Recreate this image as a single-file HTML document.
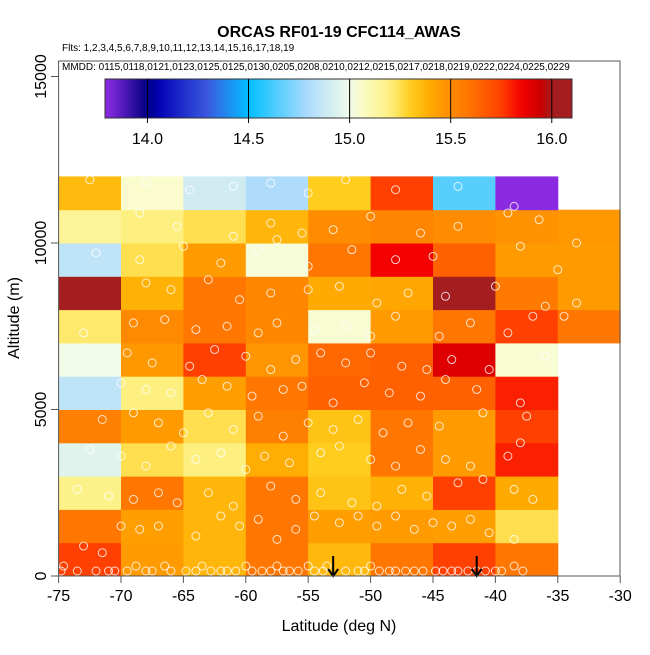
<!DOCTYPE html>
<html><head><meta charset="utf-8"><style>
html,body{margin:0;padding:0;background:#fff;}
svg text{font-family:"Liberation Sans",sans-serif;}
</style></head><body>
<svg id="chart" width="650" height="650" viewBox="0 0 650 650" xmlns="http://www.w3.org/2000/svg">
<defs><linearGradient id="cbg" x1="0" x2="1" y1="0" y2="0"></linearGradient></defs>
<text x="339" y="37" text-anchor="middle" font-size="16" font-weight="bold">ORCAS RF01-19 CFC114_AWAS</text>
<text x="62" y="51" font-size="10">Flts: 1,2,3,4,5,6,7,8,9,10,11,12,13,14,15,16,17,18,19</text>
<text x="62" y="70" font-size="10">MMDD: 0115,0118,0121,0123,0125,0125,0130,0205,0208,0210,0212,0215,0217,0218,0219,0222,0224,0225,0229</text>
<g id="cells"></g>
<g id="pts"></g>
<g id="arrows"></g>
<rect x="58.6" y="61" width="561.4" height="515" fill="none" stroke="#555" stroke-width="1"/>
<g id="cbar"></g>
<g id="axes"></g>
<text x="339" y="631" text-anchor="middle" font-size="16">Latitude (deg N)</text>
<text transform="translate(19,318) rotate(-90)" text-anchor="middle" font-size="16">Altitude (m)</text>
</svg>
<script>
const latEdges=[-75,-70,-65,-60,-55,-50,-45,-40,-35,-30];
const altEdges=[0,1000,2000,3000,4000,5000,6000,7000,8000,9000,10000,11000,12000];
// rows bottom (0-1000) to top (11000-12000); columns -75..-30 by 5 deg; null = no data
const row0=[15.75,15.45,15.37,15.58,15.36,15.58,15.75,15.58,null];
const row1=[15.58,15.44,15.37,15.58,15.44,15.45,15.44,15.25,null];
const row2=[15.18,15.58,15.37,15.58,15.33,15.38,15.75,15.40,null];
const row3=[14.95,15.25,15.20,15.39,15.30,15.58,15.45,15.80,null];
const row4=[15.55,15.45,15.25,15.55,15.33,15.58,15.45,15.75,null];
const row5=[14.85,15.20,15.44,15.58,15.65,15.65,15.65,15.80,null];
const row6=[15.00,15.46,15.75,15.47,15.63,15.65,15.90,15.04,null];
const row7=[15.22,15.51,15.58,15.52,15.04,15.45,15.58,15.75,15.58];
const row8=[16.05,15.38,15.58,15.52,15.40,15.41,16.05,15.57,15.45];
const row9=[14.85,15.25,15.45,15.03,15.58,15.85,15.65,15.45,15.45];
const row10=[15.15,15.20,15.25,15.37,15.50,15.53,15.50,15.48,15.46];
const row11=[15.35,15.05,14.90,14.80,15.30,15.75,14.65,13.80,null];
const rows=[row0,row1,row2,row3,row4,row5,row6,row7,row8,row9,row10,row11];
const xTicks=[-75,-70,-65,-60,-55,-50,-45,-40,-35,-30];
const yTicks=[0,5000,10000,15000];
const cbTicks=[14.0,14.5,15.0,15.5,16.0];
const arrowLats=[-53,-41.5];
const ptLat=[-74.8,-74.6,-73.5,-72,-71,-70.5,-69.5,-68.8,-68,-67.5,-66.5,-66,-64.8,-64,-63.5,-62.8,-62,-61.5,-60.8,-60,-59.5,-58.7,-58,-57.5,-57,-56.5,-55.8,-55,-54.5,-53.8,-53.5,-52,-51,-50.5,-50,-49.3,-48.5,-48,-47.2,-46.5,-45.8,-44.8,-44.2,-43.5,-43,-42.2,-41.5,-40.8,-40,-39.5,-38.5,-37.8,
-73,-71.5,-70,-68.5,-67,-64,-62,-60.5,-59,-57.5,-56,-54.5,-52.5,-51,-49.5,-48,-46.5,-45,-43.5,-42,-40.5,-38.5,
-73.5,-71,-69,-67,-65.5,-63,-61,-58,-56,-54,-51.5,-49.5,-47.5,-45.5,-43,-41,-38.5,-37,
-72.5,-70,-68,-66,-64,-62,-60,-58.5,-56.5,-54,-52.5,-50,-48,-46,-44,-42,-39,-38,
-71.5,-69,-67,-65,-63,-61,-59,-57,-55,-53,-51,-49,-47,-44.5,-41,-37.5,
-70,-68,-66,-63.5,-61.5,-59.5,-57,-55.5,-53,-50.5,-48.5,-46,-44,-41.5,-38,
-72,-69.5,-67.5,-64.5,-62.5,-60,-58,-56,-54,-52,-50,-47.5,-45.5,-43.5,-40.5,-36,
-73,-69,-66.5,-64,-61.5,-59,-57.5,-54.5,-52,-50,-48,-44.5,-42,-39,-37,-34.5,
-68,-66,-63,-60.5,-58,-55,-52.5,-49.5,-47,-44,-40,-36,-33.5,
-72,-68.5,-65,-62,-59,-57.5,-55,-51.5,-48,-45,-38,-35,
-68.5,-65.5,-61,-58,-55.5,-53,-50,-46,-43,-39,-36.5,-33.5,
-72.5,-68,-64.5,-61,-58,-55,-52,-48,-43,-38.5];
const ptAlt=[150,300,150,150,150,150,150,300,150,150,300,150,150,150,300,150,150,150,150,300,150,150,150,300,150,150,150,300,150,150,300,150,150,150,300,150,150,150,150,150,150,150,150,150,150,150,150,150,150,150,300,150,
900,700,1500,1400,1500,1200,1800,1500,1700,1100,1400,1800,1600,1800,1500,1800,1400,1600,1500,1700,1300,1100,
2600,2400,2300,2500,2200,2500,2100,2700,2300,2500,2200,2100,2600,2400,2800,2900,2600,2300,
3800,3600,3300,3900,3500,3700,3200,3600,3400,3700,3900,3500,3300,3800,3500,3300,3600,4000,
4700,4900,4600,4300,4900,4400,4800,4200,4600,4400,4700,4300,4600,4500,4900,4800,
5800,5600,5500,5900,5700,5400,5600,5700,5200,5800,5500,5400,5900,5600,5200,
6500,6700,6400,6300,6800,6600,6200,6500,6700,6400,6700,6300,6200,6500,6200,6600,
7300,7600,7700,7400,7500,7300,7600,7400,7500,7200,7800,7200,7600,7300,7800,7800,
8800,8600,8900,8300,8500,8600,8700,8200,8500,8400,8700,8100,8200,
9700,9500,9900,9400,9800,10100,9300,9800,9500,9600,9900,9200,
10900,10500,10200,10600,10300,10400,10800,10300,10500,10900,10700,10000,
11900,11800,11600,11700,11800,11500,11900,11600,11700,11100];
const NS='http://www.w3.org/2000/svg';
const X0=58.6,XS=12.48,Y0=576,YS=0.0333;
function xs(l){return X0+(l+75)*XS;}
function ys(a){return Y0-a*YS;}
const stops=[[13.8,[138,43,226]],[14.0,[0,0,128]],[14.05,[0,0,180]],[14.3,[60,90,225]],[14.5,[0,191,255]],[14.8,[176,220,252]],[15.0,[240,252,232]],[15.05,[250,252,205]],[15.2,[254,240,128]],[15.3,[255,205,30]],[15.4,[255,170,0]],[15.5,[255,140,0]],[15.6,[255,114,0]],[15.75,[255,64,0]],[15.85,[245,0,0]],[15.95,[200,0,0]],[16.0,[164,30,32]],[16.1,[164,30,32]]];
function col(v){if(v<=stops[0][0])return 'rgb('+stops[0][1]+')';for(let i=1;i<stops.length;i++){if(v<=stops[i][0]){const a=stops[i-1],b=stops[i];const t=(v-a[0])/(b[0]-a[0]);return 'rgb('+a[1].map((c,k)=>Math.round(c+(b[1][k]-c)*t)).join(',')+')';}}return 'rgb('+stops[stops.length-1][1]+')';}
function mk(tag,attrs,parent){const e=document.createElementNS(NS,tag);for(const k in attrs)e.setAttribute(k,attrs[k]);parent.appendChild(e);return e;}
const gc=document.getElementById('cells');
rows.forEach((r,ri)=>{r.forEach((v,ci)=>{if(v==null)return;
const x1=xs(latEdges[ci]),x2=xs(latEdges[ci+1]),y1=ys(altEdges[ri+1]),y2=ys(altEdges[ri]);
const e=mk('rect',{x:x1,y:y1,width:x2-x1+0.5,height:y2-y1+0.5,fill:col(v)},gc);

});});
const gp=document.getElementById('pts');
ptLat.forEach((l,i)=>{const e=mk('circle',{cx:xs(l),cy:ys(ptAlt[i]),r:4,fill:'none',stroke:'#fff','stroke-opacity':0.8,'stroke-width':1},gp);

});
const ga=document.getElementById('arrows');
arrowLats.forEach(l=>{const g=mk('g',{},ga);


mk('line',{x1:xs(l),x2:xs(l),y1:556,y2:575,stroke:'#000','stroke-width':2},g);
mk('path',{d:`M${xs(l)-5},${569} L${xs(l)},${576} L${xs(l)+5},${569}`,fill:'none',stroke:'#000','stroke-width':2},g);});
const gx=document.getElementById('axes');
xTicks.forEach(t=>{const x=xs(t);mk('line',{x1:x,x2:x,y1:576,y2:583,stroke:'#555'},gx);
const tx=mk('text',{x:x,y:601,'text-anchor':'middle','font-size':16},gx);tx.textContent=t;

});
yTicks.forEach(t=>{const y=ys(t);mk('line',{x1:51,x2:58.6,y1:y,y2:y,stroke:'#555'},gx);
const tx=mk('text',{transform:`translate(46,${y}) rotate(-90)`,'text-anchor':'middle','font-size':16},gx);tx.textContent=t;

});
const CB0=105,CB1=572,CBV0=13.79,CBV1=16.1;
function cx(v){return CB0+(v-CBV0)/(CBV1-CBV0)*(CB1-CB0);}
const grad=document.getElementById('cbg');
for(let i=0;i<=60;i++){const v=CBV0+(CBV1-CBV0)*i/60;mk('stop',{offset:(i/60),'stop-color':col(v)},grad);}
const gb=document.getElementById('cbar');
mk('rect',{x:CB0,y:79,width:CB1-CB0,height:39,fill:'url(#cbg)',stroke:'#333'},gb);
cbTicks.forEach(t=>{const x=cx(t);mk('line',{x1:x,x2:x,y1:79,y2:123,stroke:'#000'},gb);
const tx=mk('text',{x:x,y:144,'text-anchor':'middle','font-size':16},gb);tx.textContent=t.toFixed(1);

});
</script>
</body></html>
